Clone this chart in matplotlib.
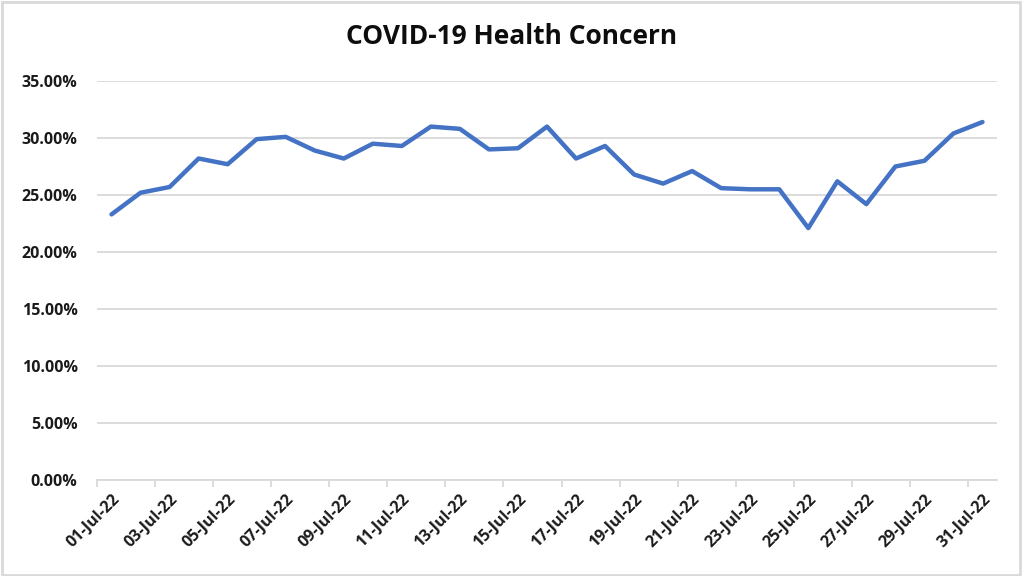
import numpy as np
import matplotlib.pyplot as plt
from matplotlib.patches import Rectangle
from matplotlib.ticker import PercentFormatter, FixedLocator

plt.rcParams['font.family'] = ['Open Sans', 'DejaVu Sans']

# daily share of respondents citing COVID-19 health concern (%)
dates = ["%02d-Jul-22" % d for d in range(1, 32)]
concern = [23.3, 25.2, 25.7, 28.2, 27.7, 29.9, 30.1, 28.9, 28.2, 29.5,
           29.3, 31.0, 30.8, 29.0, 29.1, 31.0, 28.2, 29.3, 26.8, 26.0,
           27.1, 25.6, 25.5, 25.5, 22.1, 26.2, 24.2, 27.5, 28.0, 30.4,
           31.4]
y_ticks = [0, 5, 10, 15, 20, 25, 30, 35]

fig = plt.figure(figsize=(10.24, 5.76), dpi=100)
ax = fig.add_axes([97 / 1024, 1 - 480 / 576, 900 / 1024, 399 / 576])

x = np.arange(len(dates))
ax.plot(x, concern, color="#4472C4", linewidth=3.2, solid_joinstyle="round",
        solid_capstyle="round", zorder=3)

ax.set_xlim(-0.5, len(dates) - 0.5)
ax.set_ylim(0, 35)
ax.set_yticks(y_ticks)
ax.yaxis.set_major_formatter(PercentFormatter(decimals=2))
ax.grid(axis="y", color="#D9D9D9", linewidth=1.3)
ax.set_axisbelow(True)

# labels on every second category, tick marks on category boundaries
ax.set_xticks(x[::2])
ax.set_xticklabels(dates[::2], rotation=45, ha="right", rotation_mode="anchor")
ax.xaxis.set_minor_locator(FixedLocator(np.arange(-0.5, len(dates) - 1, 2)))
ax.tick_params(axis="x", which="major", length=0, pad=8)
ax.tick_params(axis="x", which="minor", length=5, color="#D9D9D9", width=1.3)
ax.tick_params(axis="y", length=0, pad=14)
for lbl in ax.get_xticklabels() + ax.get_yticklabels():
    lbl.set_fontsize(11.5)
    lbl.set_fontweight("bold")
    lbl.set_color("#1a1a1a")

for side in ["top", "right", "left"]:
    ax.spines[side].set_visible(False)
ax.spines["bottom"].set_color("#D9D9D9")
ax.spines["bottom"].set_linewidth(1.3)

fig.text(0.5, 1 - 37 / 576, "COVID-19 Health Concern", ha="center", va="center",
         fontsize=19, fontweight="bold", color="#0d0d0d")

# chart area border
fig.patches.append(Rectangle((0.002, 0.002), 0.994, 0.995, transform=fig.transFigure,
                             fill=False, edgecolor="#D9D9D9", linewidth=2))

fig.savefig("out.png", dpi=100)
